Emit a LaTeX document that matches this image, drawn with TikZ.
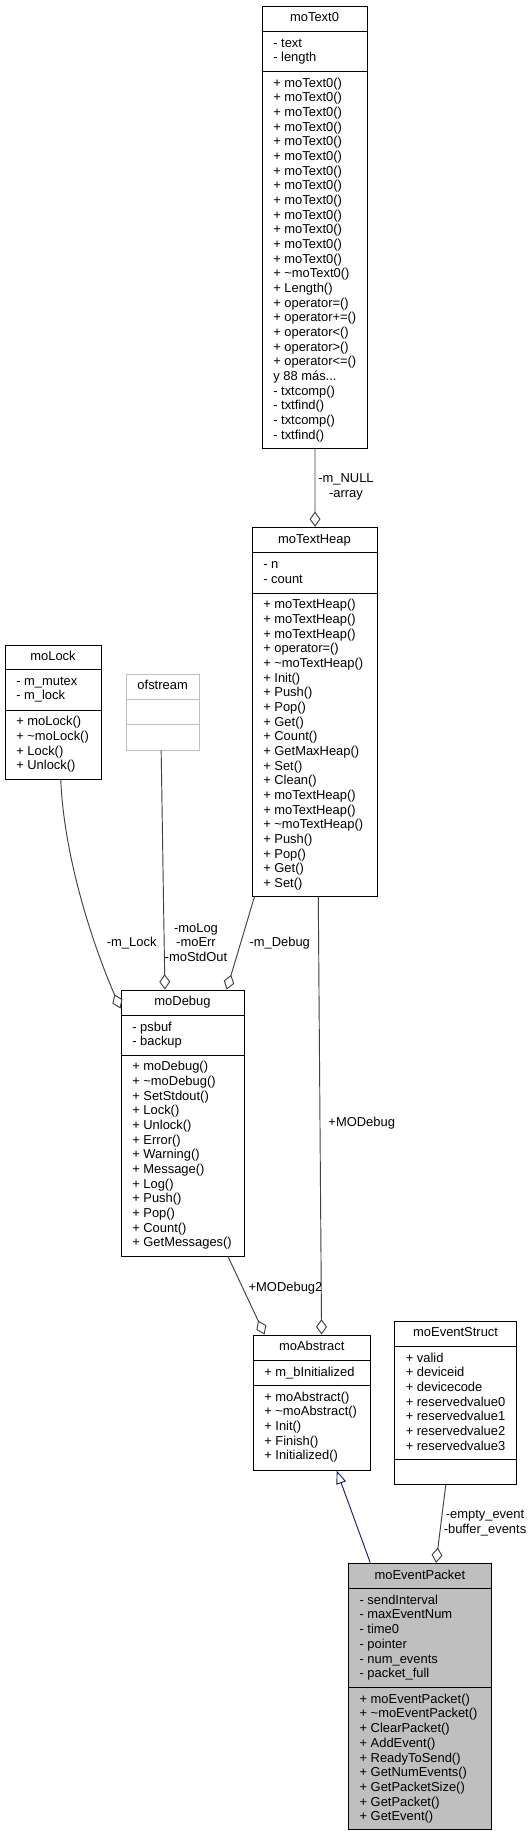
\documentclass[tikz,border=0pt]{standalone}
\usepackage{fontspec}
\setmainfont{Liberation Sans}
\usetikzlibrary{arrows.meta,calc,fit}
\definecolor{edgegray}{HTML}{404040}
\definecolor{inhblue}{HTML}{191970}
\definecolor{hlgray}{HTML}{BFBFBF}
\newcommand\umlfont{\fontsize{9.7}{11}\selectfont}
\newcommand\threedots{.{}.{}.}
\newcommand\members[4]{\foreach \txt [count=\rowi] in {#4} {\node[member] (#1\rowi) at (#2,{#3+15.8+(\rowi-1)*14.67}) {\txt};}}
\tikzset{
 classbox/.style={draw=black, line width=0.75pt, inner sep=0pt},
 member/.style={anchor=base west, inner sep=0pt, font=\umlfont},
 ctitle/.style={anchor=base, inner sep=0pt, font=\umlfont},
 sepline/.style={line width=0.75pt},
 assoc/.style={draw=edgegray, line width=0.7pt, -{Diamond[open, length=11.5pt, width=8.2pt]}},
 inherit/.style={draw=inhblue, line width=0.7pt, -{Triangle[open, length=10pt, width=7.5pt]}},
 elabel/.style={font=\umlfont, align=center, inner sep=0pt},
}
\begin{document}
\begin{tikzpicture}[x=0.75pt,y=-0.75pt]
\path[fill=white] (0,0) rectangle (532,1836);
\useasboundingbox (0,0) rectangle (532,1836);

% moText0
\node[classbox, fit={(262,6) (367,448)}] (moText0) {};
\node[ctitle] (moText0T) at (314.5,21.8) {moText0};
\draw[sepline] (262,31.5) -- (367,31.5);
\draw[sepline] (262,71.2) -- (367,71.2);
\members{moTextA}{273}{31.5}{- text,- length}
\members{moTextM}{273}{71.2}{+ moText0(),+ moText0(),+ moText0(),+ moText0(),+ moText0(),+ moText0(),+ moText0(),+ moText0(),+ moText0(),+ moText0(),+ moText0(),+ moText0(),+ moText0(),+ \textasciitilde moText0(),+ Length(),+ operator=(),+ operator+=(),+ operator<(),+ operator>(),+ operator<=(),{y 88 más\threedots},- txtcomp(),- txtfind(),- txtcomp(),- txtfind()}

% moTextHeap
\node[classbox, fit={(252,527.3) (377,896)}] (moTextHeap) {};
\node[ctitle] (moTextHeapT) at (314.5,543.1) {moTextHeap};
\draw[sepline] (252,552.7) -- (377,552.7);
\draw[sepline] (252,593) -- (377,593);
\members{moTextHeapA}{263}{552.7}{- n,- count}
\members{moTextHeapM}{263}{593}{+ moTextHeap(),+ moTextHeap(),+ moTextHeap(),+ operator=(),+ \textasciitilde moTextHeap(),+ Init(),+ Push(),+ Pop(),+ Get(),+ Count(),+ GetMaxHeap(),+ Set(),+ Clean(),+ moTextHeap(),+ moTextHeap(),+ \textasciitilde moTextHeap(),+ Push(),+ Pop(),+ Get(),+ Set()}

% moLock
\node[classbox, fit={(5,645) (101,779)}] (moLock) {};
\node[ctitle] (moLockT) at (53,660.8) {moLock};
\draw[sepline] (5,669.3) -- (101,669.3);
\draw[sepline] (5,710) -- (101,710);
\members{moLockA}{16}{669.3}{- m\_mutex,- m\_lock}
\members{moLockM}{16}{710}{+ moLock(),+ \textasciitilde moLock(),+ Lock(),+ Unlock()}

% ofstream
\node[classbox, draw=hlgray, fit={(126,674) (199.3,750)}] (ofstream) {};
\node[ctitle] (ofstreamT) at (162.65,689.8) {ofstream};
\draw[sepline, hlgray] (126,699.3) -- (199.3,699.3);
\draw[sepline, hlgray] (126,724.7) -- (199.3,724.7);

% moDebug
\node[classbox, fit={(121,990) (244,1256)}] (moDebug) {};
\node[ctitle] (moDebugT) at (182.5,1005.8) {moDebug};
\draw[sepline] (121,1015.3) -- (244,1015.3);
\draw[sepline] (121,1055) -- (244,1055);
\members{moDebugA}{132}{1015.3}{- psbuf,- backup}
\members{moDebugM}{132}{1055}{+ moDebug(),+ \textasciitilde moDebug(),+ SetStdout(),+ Lock(),+ Unlock(),+ Error(),+ Warning(),+ Message(),+ Log(),+ Push(),+ Pop(),+ Count(),+ GetMessages()}

% moAbstract
\node[classbox, fit={(253,1335) (370.5,1470)}] (moAbstract) {};
\node[ctitle] (moAbstractT) at (311.75,1350.8) {moAbstract};
\draw[sepline] (253,1360.5) -- (370.5,1360.5);
\draw[sepline] (253,1385.5) -- (370.5,1385.5);
\members{moAbstractA}{264}{1360.5}{+ m\_bInitialized}
\members{moAbstractM}{264}{1385.5}{+ moAbstract(),+ \textasciitilde moAbstract(),+ Init(),+ Finish(),+ Initialized()}

% moEventStruct
\node[classbox, fit={(394.5,1321) (516.7,1484.7)}] (moEventStruct) {};
\node[ctitle] (moEventStructT) at (455.6,1336.8) {moEventStruct};
\draw[sepline] (394.5,1346.3) -- (516.7,1346.3);
\draw[sepline] (394.5,1459.5) -- (516.7,1459.5);
\members{moEventStructA}{405.5}{1346.3}{+ valid,+ deviceid,+ devicecode,+ reservedvalue0,+ reservedvalue1,+ reservedvalue2,+ reservedvalue3}

% moEventPacket
\node[classbox, fill=hlgray, fit={(348.3,1563.3) (491.5,1829.5)}] (moEventPacket) {};
\node[ctitle] (moEventPacketT) at (419.9,1579.1) {moEventPacket};
\draw[sepline] (348.3,1588.5) -- (491.5,1588.5);
\draw[sepline] (348.3,1687.5) -- (491.5,1687.5);
\members{moEventPacketA}{359.3}{1588.5}{- sendInterval,- maxEventNum,- time0,- pointer,- num\_events,- packet\_full}
\members{moEventPacketM}{359.3}{1687.5}{+ moEventPacket(),+ \textasciitilde moEventPacket(),+ ClearPacket(),+ AddEvent(),+ ReadyToSend(),+ GetNumEvents(),+ GetPacketSize(),+ GetPacket(),+ GetEvent()}

% connectors
\draw[assoc] ($(moText0.south west)!0.505!(moText0.south east)$) -- ($(moTextHeap.north west)!0.504!(moTextHeap.north east)$);
\draw[assoc] ($(moLock.south west)!0.58!(moLock.south east)$) .. controls (64,860) and (95,950) .. ($(moDebug.north west)!0.071!(moDebug.south west)$);
\draw[assoc] ($(ofstream.south west)!0.48!(ofstream.south east)$) -- ($(moDebug.north west)!0.358!(moDebug.north east)$);
\draw[assoc] ($(moTextHeap.south west)!0.024!(moTextHeap.south east)$) -- ($(moDebug.north west)!0.857!(moDebug.north east)$);
\draw[assoc] ($(moTextHeap.south west)!0.53!(moTextHeap.south east)$) -- ($(moAbstract.north west)!0.583!(moAbstract.north east)$);
\draw[assoc] ($(moDebug.south west)!0.867!(moDebug.south east)$) -- ($(moAbstract.north west)!0.102!(moAbstract.north east)$);
\draw[inherit] ($(moEventPacket.north west)!0.156!(moEventPacket.north east)$) -- ($(moAbstract.south west)!0.71!(moAbstract.south east)$);
\draw[assoc] ($(moEventStruct.south west)!0.42!(moEventStruct.south east)$) -- ($(moEventPacket.north west)!0.612!(moEventPacket.north east)$);

% labels
\node[elabel] (lblNull) at (346,487) {-m\_NULL\\-array};
\node[elabel] (lblLock) at (131.7,943) {-m\_Lock};
\node[elabel] (lblStreams) at (196,942.5) {-moLog\\-moErr\\-moStdOut};
\node[elabel] (lblDebug) at (279.7,943) {-m\_Debug};
\node[elabel] (lblMOD) at (361.7,1123.3) {+MODebug};
\node[elabel] (lblMOD2) at (285.5,1288.3) {+MODebug2};
\node[elabel] (lblEvents) at (485,1523) {-empty\_event\\-buffer\_events};
\end{tikzpicture}
\end{document}
